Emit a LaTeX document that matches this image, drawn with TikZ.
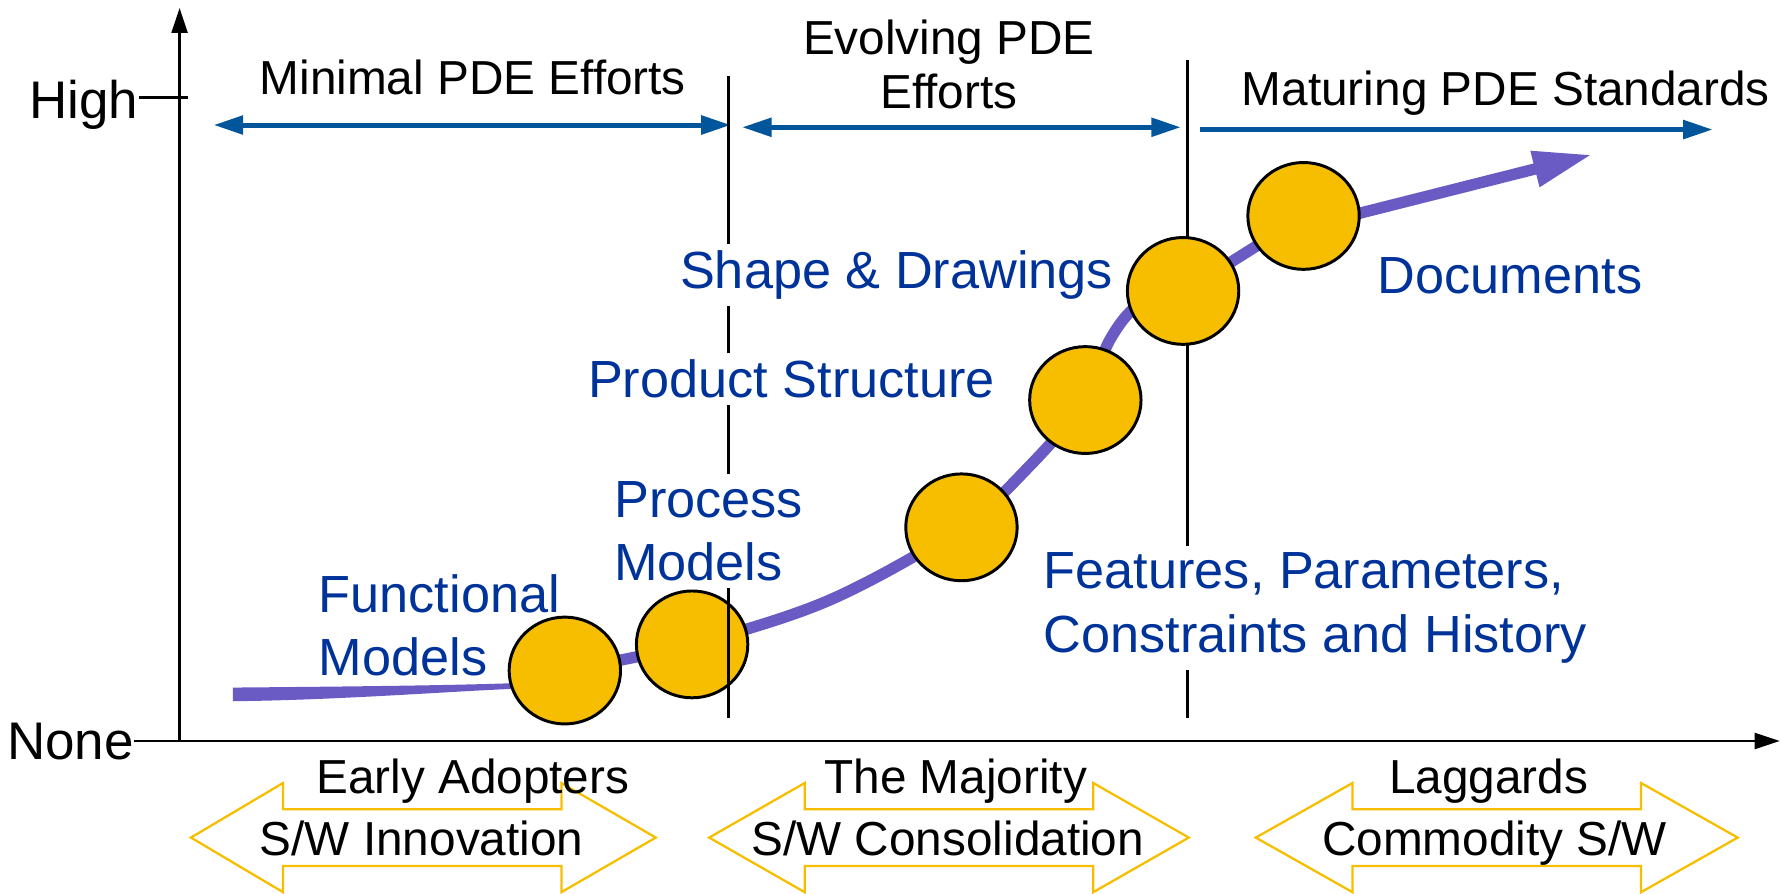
\documentclass[tikz,border=0pt]{standalone}
\usepackage{fontspec}
\setmainfont{Liberation Sans}
\usetikzlibrary{arrows.meta,shapes.geometric}
\definecolor{cyellow}{RGB}{247,190,0}
\definecolor{cpurple}{RGB}{106,90,196}
\definecolor{cbluetext}{RGB}{0,51,153}
\definecolor{cbluearrow}{RGB}{0,85,155}
\begin{document}
\begin{tikzpicture}[x=0.5pt,y=-0.5pt,
  axisline/.style={line width=1.1pt,-{Triangle[length=11pt,width=7pt]}},
  axtick/.style={line width=1.1pt},
  divider/.style={line width=1.3pt},
  rangearrow/.style={cbluearrow,line width=2.2pt},
  lbl/.style={inner sep=0pt,font=\fontsize{21pt}{24pt}\selectfont},
  axlbl/.style={inner sep=0pt,font=\fontsize{23.3pt}{27pt}\selectfont},
  tech/.style={text=cbluetext,inner xsep=2pt,inner ysep=3pt,font=\fontsize{23pt}{28pt}\selectfont},
  techbg/.style={tech,fill=white},
  stagedot/.style={ellipse,draw,line width=1.3pt,fill=cyellow,minimum width=49pt,minimum height=47pt,inner sep=0pt},
  bandshape/.style={draw=cyellow,line width=1pt},
  curveline/.style={cpurple,line width=5pt,line join=round},
]
\useasboundingbox (0,0) rectangle (1568,786.6);

% axes
\coordinate (O) at (158,652);
\coordinate (ytop) at (158,7);
\coordinate (xend) at (1566,652);
\draw[axisline] (O) -- (ytop);
\draw[axisline] (O) -- (xend);
\node[axlbl,anchor=base east] (high) at (122,104) {High};
\node[axlbl,anchor=base east] (none) at (118,668) {None};
\coordinate (ht1) at (122,86);
\coordinate (ht2) at (165,86);
\coordinate (nt1) at (118,652);
\coordinate (nt2) at (161,652);
\draw[axtick] (ht1) -- (ht2);
\draw[axtick] (nt1) -- (nt2);

% divider 2 (behind the dots)
\coordinate (d2top) at (1045,53);
\coordinate (d2bot) at (1045,632);
\draw[divider] (d2top) -- (d2bot);

% range arrows
\coordinate (r1a) at (188,110);
\coordinate (r1b) at (643,110);
\coordinate (r2a) at (653,112);
\coordinate (r2b) at (1039,112);
\coordinate (r3a) at (1056,114);
\coordinate (r3b) at (1507,114);
\draw[rangearrow,{Triangle[length=13pt,width=8pt]}-{Triangle[length=13pt,width=8pt]}] (r1a) -- (r1b);
\draw[rangearrow,{Triangle[length=13pt,width=8pt]}-{Triangle[length=13pt,width=8pt]}] (r2a) -- (r2b);
\draw[rangearrow,-{Triangle[length=13pt,width=8pt]}] (r3a) -- (r3b);

% top labels
\node[lbl,anchor=base] (minimal) at (416,83) {Minimal PDE Efforts};
\node[lbl,anchor=north,align=center] (evolving) at (835,17) {Evolving PDE\\Efforts};
\node[lbl,anchor=base] (maturing) at (1325,93) {Maturing PDE Standards};

% curve
\coordinate (p1) at (497,590);
\coordinate (p2) at (609,567);
\coordinate (m1) at (730,528);
\coordinate (p3) at (846,464);
\coordinate (m2) at (906,410);
\coordinate (p4) at (955,352);
\coordinate (m3) at (976,300);
\coordinate (m4) at (1002,268);
\coordinate (p5) at (1041,256);
\coordinate (p6) at (1147,190);
\coordinate (m5) at (1183,191);
\coordinate (tip) at (1401,136);
\fill[cpurple] (205,605) .. controls (320,604) and (400,603) .. (455,601) -- (455,606) .. controls (400,608) and (300,616) .. (205,617) -- cycle;
\draw[curveline,-{Triangle[length=26pt,width=15pt]}] plot[smooth,tension=0.55] coordinates {(p1) (p2) (m1) (p3) (m2) (p4) (m3) (m4) (p5) (p6)} -- (m5) -- (tip);

% dots
\node[stagedot] (c1) at (p1) {};
\node[stagedot] (c2) at (p2) {};
\node[stagedot] (c3) at (p3) {};
\node[stagedot] (c4) at (p4) {};
\node[stagedot] (c5) at (p5) {};
\node[stagedot] (c6) at (p6) {};

% divider 1 (over the dot)
\coordinate (d1top) at (641,67);
\coordinate (d1bot) at (641,632);
\draw[divider] (d1top) -- (d1bot);

% technology labels
\node[tech,anchor=north west,align=left] (functional) at (276,499) {Functional\\Models};
\node[techbg,anchor=north west,align=left] (process) at (536,417) {Process\\Models};
\node[techbg,anchor=base west] (product) at (513,350) {Product Structure};
\node[techbg,anchor=base west] (shape) at (594,254) {Shape \& Drawings};
\node[tech,anchor=base west] (documents) at (1208,258) {Documents};
\node[techbg,anchor=north west,align=left] (features) at (914,480) {Features, Parameters,\\Constraints and History};

% bottom bands
\draw[bandshape] (168,737) -- (249,689) -- (249,712) -- (494,712) -- (494,689) -- (577,737) -- (494,785) -- (494,762) -- (249,762) -- (249,785) -- cycle;
\draw[bandshape] (624,737) -- (708,689) -- (708,712) -- (962,712) -- (962,689) -- (1046,737) -- (962,785) -- (962,762) -- (708,762) -- (708,785) -- cycle;
\draw[bandshape] (1105,737) -- (1190,689) -- (1190,712) -- (1444,712) -- (1444,689) -- (1529,737) -- (1444,785) -- (1444,762) -- (1190,762) -- (1190,785) -- cycle;

\node[lbl,anchor=base] (early) at (416,698) {Early Adopters};
\node[lbl,anchor=base] (innovation) at (371,753) {S/W Innovation};
\node[lbl,anchor=base] (majority) at (841,698) {The Majority};
\node[lbl,anchor=base] (consolidation) at (834,753) {S/W Consolidation};
\node[lbl,anchor=base] (laggards) at (1310,698) {Laggards};
\node[lbl,anchor=base] (commodity) at (1315,753) {Commodity S/W};
\end{tikzpicture}
\end{document}
